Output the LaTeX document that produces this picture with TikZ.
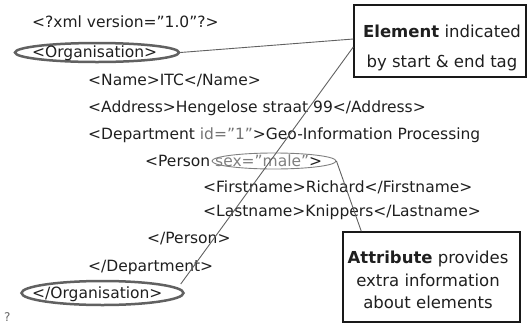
\documentclass[tikz,border=0pt]{standalone}
\usepackage{fontspec}
\setmainfont{DejaVu Sans}
\usetikzlibrary{shapes.geometric,calc}
\begin{document}
\begin{tikzpicture}[x=1pt,y=-1pt,
  code/.style={anchor=base west,inner sep=0pt,font=\fontsize{15.5}{18}\selectfont,text=black!88},
  tagel/.style={draw=black!62,line width=2.5pt,ellipse,inner sep=0pt},
  attel/.style={draw=black!50,line width=0.9pt,ellipse,inner sep=0pt},
  conn/.style={draw=black!62,line width=0.9pt},
  notebox/.style={draw=black!90,line width=1.4pt,rectangle,inner sep=0pt},
  notetext/.style={inner sep=0pt,align=center,text=black!88}]
\useasboundingbox (0,0) rectangle (528,325);
% XML lines
\node[code] (xml) at (32,27) {<?xml version="1.0"?>};
\node[tagel,minimum width=164,minimum height=19] (orgel) at (97,52.5) {};
\node[code] (org) at (32,57) {<Organisation>};
\node[code] (name) at (88,85) {<Name>ITC</Name>};
\node[code] (addr) at (88,112) {<Address>Hengelose straat 99</Address>};
\node[code] (dept) at (88,139) {<Department \textcolor{black!55}{id="1"}>Geo-Information Processing};
\node[attel,minimum width=124,minimum height=16] (attel) at (274,161) {};
\node[code] (pers) at (145,166) {<Person \textcolor{black!50}{sex="male"}>};
\node[code] (first) at (203,192) {<Firstname>Richard</Firstname>};
\node[code] (last) at (203,216) {<Lastname>Knippers</Lastname>};
\node[code] (epers) at (147,243) {</Person>};
\node[code] (edept) at (88,271) {</Department>};
\node[tagel,minimum width=162,minimum height=24] (closeel) at (102.5,293) {};
\node[code] (eorg) at (32,298) {</Organisation>};
\node[code,text=black!60,font=\fontsize{12}{14}\selectfont] (stray) at (4,321) {?};
% note boxes
\node[notebox,minimum width=172,minimum height=72] (elbox) at (440,41) {};
\node[notetext,font=\fontsize{16.5}{29.5}\selectfont] (eltext) at (442,48) {\textbf{Element} indicated\\by start \& end tag};
\node[notebox,minimum width=177,minimum height=90] (attbox) at (431.5,277) {};
\node[notetext,font=\fontsize{16.5}{22.5}\selectfont] (atttext) at (428,280) {\textbf{Attribute} provides\\extra information\\about elements};
% connectors
\draw[conn] (orgel.east) -- ($(elbox.west)+(0,-2)$);
\draw[conn] ($(elbox.west)+(0,6)$) -- ($(closeel.east)+(-4,-9)$);
\draw[conn] (attel.east) -- ($(attbox.north west)+(19,0)$);
\end{tikzpicture}
\end{document}
